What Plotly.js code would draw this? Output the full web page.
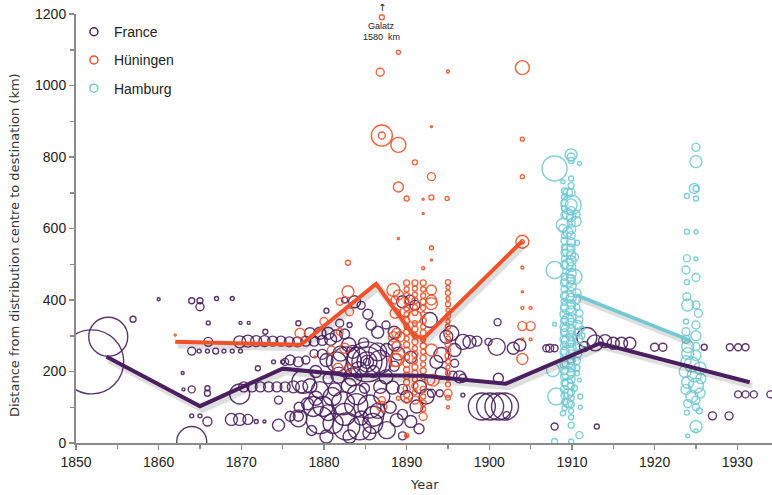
<!DOCTYPE html>
<html>
<head>
<meta charset="utf-8">
<script src="https://cdn.plot.ly/plotly-3.0.1.min.js"></script>
<style>html,body{margin:0;padding:0;background:#fff;}#chart{width:772px;height:495px;}</style>
</head>
<body>
<div id="chart"></div>
<script>
// ---- series names and colours ----
const seriesNames = ["France", "Hüningen", "Hamburg"];
const seriesColors = ["#4b1f5f", "#f0522a", "#72c9d4"];

// ---- average distance lines (year, km) ----
const franceLineYear = [1853.7, 1865, 1875, 1883, 1892, 1902, 1913.4, 1931.5];
const franceLineKm   = [241, 103, 208, 190, 188, 166, 279, 170];
const huningenLineYear = [1862, 1877.2, 1886.3, 1890.8, 1892, 1904];
const huningenLineKm   = [283, 275, 445, 302, 292, 565];
const hamburgLineYear = [1910.5, 1924.2];
const hamburgLineKm   = [414, 288];

// ---- bubbles: [year, km, diameter] ----
const franceBubbles = [
 [1851.9,227,64],[1853.9,297,39],[1856.9,346,6],[1860,402,3],
 [1864,398,6],[1865,398,6],[1865,381,8],[1867,404,4],[1868.9,404,4],
 [1866,336,4],[1869.9,336,3],[1870.9,336,3],[1872.9,311,5],
 [1864,257,8],[1864.9,257,4],[1865.9,257,4],[1866.9,257,6],[1867.9,257,4],[1868.9,257,4],[1869.9,257,4],
 [1866,283,9],
 [1869.8,283,12],[1870.8,285,12],[1871.8,285,11],[1872.8,285,11],[1873.8,285,10],[1874.8,285,10],
 [1875.8,283,10],[1876.8,283,10],[1877.8,285,10],[1878.8,285,10],[1879.8,287,10],[1880.8,290,12],
 [1862.9,196,3],[1863,150,3],[1864,150,7],[1865.9,153,5],[1865.9,139,6],
 [1869.8,137,20],
 [1870.3,157,10],[1871.3,157,10],[1872.3,157,10],[1873.3,157,10],[1874.3,157,10],[1875.3,157,10],[1876.3,157,12],[1877.3,157,12],[1878.3,160,14],
 [1872,209,5],[1875,227,4],[1875.9,232,10],[1876.9,227,10],[1877.8,232,8],
 [1864,76,4],[1865,76,4],[1865.9,60,9],[1868.8,66,12],[1869.8,66,12],[1870.8,66,10],[1871.8,60,4],[1872.8,60,3],[1875.9,75,10],[1876.9,75,10],
 [1864,4,30],[1876.9,335,5],
 [1878.3,307,11],[1879.5,307,12],[1880.5,307,12],[1881.5,300,12],[1882.5,305,10],
 [1881.9,335,8],[1883.1,330,5],[1880.3,370,5],[1883.7,395,12],[1882.5,400,6],[1885.3,360,10],[1884.5,385,8],
 [1885.7,330,10],[1886.5,310,12],[1887.5,330,8],[1888.5,310,12],
 [1880.3,232,13],[1881.5,227,20],[1882.7,227,30],[1883.5,255,13],[1884,240,20],
 [1885.2,227,40],[1885.2,227,30],[1885.2,227,20],[1885.2,227,13],[1885.2,227,7],
 [1886.8,227,23],[1887.6,260,13],[1884.2,205,16],[1886,200,12],[1882,250,15],[1879.8,248,10],[1878.8,250,8],[1873.9,227,4],[1875.3,227,7],
 [1889,250,13],[1890.5,240,12],[1888.5,215,10],
 [1877.5,171,23],[1879.5,148,17],[1881.3,150,13],[1884.9,153,10],[1886.8,157,13],[1888.3,155,13],[1883,160,15],[1880.5,180,10],
 [1882.3,111,23],[1883.9,106,23],[1885.5,102,23],[1879.9,102,20],[1878.7,102,20],[1876.9,69,17],[1879.5,64,27],[1881.1,55,20],
 [1882.7,46,27],[1884.3,41,23],[1885.9,55,20],[1887.6,36,17],[1888.8,64,13],[1880.3,18,13],[1883.1,18,13],[1885.5,27,13],
 [1878,110,12],[1877,100,10],[1874.5,120,8],[1886.5,90,15],[1888,100,12],[1889.5,80,10],[1878.5,35,10],[1874.5,50,12],
 [1881,130,18],[1884,135,20],[1887,130,16],[1879,125,14],[1882.5,80,22],[1886,75,20],[1880.5,85,16],[1884.5,70,14],
 [1881.8,190,16],[1883.5,185,18],[1887.5,185,14],[1879,200,12],[1886.5,255,18],[1888.5,275,12],[1883,275,14],[1884.8,280,10],
 [1889.5,395,12],[1890.4,400,10],[1891,385,10],[1892.8,344,15],[1894.8,297,13],[1895.4,307,15],[1896.8,283,15],[1897.6,283,13],
 [1898.5,285,10],[1895.8,260,13],[1893.6,227,13],[1894.2,195,12],[1894.2,246,15],[1895.8,223,8],[1896.4,185,12],[1895.6,190,8],
 [1896.8,181,8],[1894,139,7],[1893,139,8],[1896.8,134,4],[1892.4,130,15],[1891.6,157,13],[1891.2,102,13],[1890,130,12],
 [1889.5,150,10],[1890.5,60,12],[1891.5,40,10],[1889.5,20,8],
 [1901,338,7],[1899.9,283,7],[1900.9,269,17],[1902.9,265,12],[1903.7,274,12],[1907.3,265,8],[1901.1,181,10],
 [1899.1,102,27],[1900.1,102,27],[1901.1,102,27],[1901.9,102,27],[1902.1,78,7],
 [1906.9,265,7],[1907.9,265,7],[1911.8,295,20],[1914,285,13],[1915,279,12],[1916,279,12],[1917,279,12],
 [1920,268,8],[1921,268,8],[1926,268,6],[1929.1,268,7],[1930.1,268,7],[1931,268,7],
 [1930.1,136,7],[1931,136,7],[1932,136,7],[1934,136,7],[1927,76,8],[1929,76,8],[1907.9,46,7],[1913,46,5],
 [1911.5,270,10],[1912.8,280,16]
];

const huningenBubbles = [
 [1862,302,2],[1877.1,307,10],[1878.9,241,2],
 [1887,1191,5],[1889,1093,4],[1886.8,1037,8],[1895,1039,3],[1904,1050,14],
 [1887,860,21],[1887,860,7],[1889,834,15],[1893,885,2],[1904,850,4],[1891,785,5],[1893,745,8],[1904,745,4],
 [1889,716,10],[1890,684,5],[1892,682,2],[1893,687,5],[1894.9,684,4],[1892,642,2],[1889,572,2],[1893,546,4],
 [1893,512,2],[1892,489,3],[1904,563,13],[1904,563,4],[1904,491,3],[1904,423,2],[1882.9,504,5],[1882.9,423,12],
 [1904,378,3],[1905,378,3],[1904,327,9],[1905,327,9],[1904,290,3],[1904,235,11],[1905,290,3],
 [1881.9,395,7],[1883.1,367,8],[1881.9,311,7],[1880.9,260,8],[1881.7,209,10],[1883,209,7],[1882.5,265,10],
 [1888.8,232,13],[1887,102,10],[1887,120,7],[1889,125,4],[1890,18,3],[1889.8,367,10],[1888.8,307,10],
 [1888.4,428,13],[1888.6,400,8],[1888.6,363,10],[1888.4,297,10],[1888.8,269,10],[1888.6,232,13],
 [1893,428,10],[1893,400,10],[1893,260,12],[1892.8,176,10],[1892,74,8],[1891,120,8],[1895,139,8],[1895,127,5],
 [1890,22,4],[1889,414,10],[1889.2,297,10],[1893.2,176,12],[1891,353,13],[1893,390,12],[1880,340,8],
 // column 1890
 [1890,448,6],[1890,430,5],[1890,412,6],[1890,395,5],[1890,378,6],[1890,360,5],[1890,343,6],[1890,325,5],
 [1890,310,6],[1890,292,5],[1890,275,6],[1890,258,7],[1890,240,6],[1890,222,7],[1890,205,6],[1890,188,7],
 [1890,170,6],[1890,152,7],[1890,135,6],[1890,118,5],
 // column 1891
 [1891,448,6],[1891,432,5],[1891,415,5],[1891,398,6],[1891,380,5],[1891,365,6],[1891,335,5],[1891,318,6],
 [1891,300,5],[1891,283,6],[1891,265,5],[1891,248,6],[1891,230,5],[1891,212,6],[1891,195,6],[1891,178,5],
 [1891,160,6],[1891,142,5],
 // column 1892
 [1892,448,6],[1892,430,5],[1892,412,5],[1892,395,6],[1892,378,5],[1892,360,5],[1892,342,6],[1892,325,5],
 [1892,308,6],[1892,290,5],[1892,272,6],[1892,255,5],[1892,238,6],[1892,220,5],[1892,202,6],[1892,185,5],
 [1892,150,6],[1892,130,5],[1892,112,6],[1892,95,5],
 // column 1895
 [1895,450,5],[1895,435,4],[1895,420,5],[1895,404,4],[1895,388,5],[1895,372,4],[1895,356,5],[1895,340,4],
 [1895,325,5],[1895,308,4],[1895,292,5],[1895,276,6],[1895,260,5],[1895,244,6],[1895,228,5],[1895,212,4],
 [1895,196,5],[1895,180,4],[1895,164,5],[1895,100,3]
];

const hamburgBubbles = [
 [1907.9,768,25],[1909.9,806,12],[1909.9,800,8],[1909.9,790,6],[1910.9,782,4],[1908.9,731,4],
 [1909.9,666,20],[1909.9,666,12],[1909.9,700,8],[1909.9,720,6],[1909.9,740,5],[1908.9,610,13],[1908.9,600,8],
 [1907.9,484,17],[1910.3,465,15],[1910.9,363,7],[1910.9,345,7],[1907.9,332,4],[1907.7,204,13],[1908.1,130,17],
 [1910.3,153,6],[1910.9,176,4],[1908.9,83,5],[1909.9,50,6],[1910.9,22,7],[1909.9,4,5],[1907.9,4,6],
 [1910.5,640,8],[1910.5,620,10],[1910.6,560,5],[1910.3,520,8],[1910.6,420,8],
 // column 1909.1
 [1909.1,705,6],[1909.1,688,6],[1909.1,672,7],[1909.1,655,6],[1909.1,638,7],[1909.1,580,6],[1909.1,565,7],
 [1909.1,548,6],[1909.1,532,7],[1909.1,515,6],[1909.1,498,8],[1909.1,465,7],[1909.1,448,8],[1909.1,430,7],
 [1909.1,412,8],[1909.1,395,7],[1909.1,378,8],[1909.1,360,9],[1909.1,342,8],[1909.1,325,9],[1909.1,308,8],
 [1909.1,290,9],[1909.1,272,8],[1909.1,255,9],[1909.1,238,8],[1909.1,220,9],[1909.1,202,8],[1909.1,185,8],
 [1909.1,168,7],[1909.1,150,8],[1909.1,133,7],[1909.1,115,6],[1909.1,98,5],
 // column 1909.5 (overlapping)
 [1909.5,700,9],[1909.5,640,11],[1909.5,590,10],[1909.5,540,12],[1909.5,500,11],[1909.5,455,13],[1909.5,410,12],
 [1909.5,380,14],[1909.5,345,12],[1909.5,315,14],[1909.5,285,13],[1909.5,255,14],[1909.5,225,12],[1909.5,195,13],
 [1909.5,165,11],[1909.5,138,10],[1909.5,112,9],
 // column 1909.9
 [1909.9,650,8],[1909.9,632,9],[1909.9,615,8],[1909.9,598,9],[1909.9,580,8],[1909.9,562,9],[1909.9,545,8],
 [1909.9,528,9],[1909.9,510,10],[1909.9,492,9],[1909.9,475,10],[1909.9,458,9],[1909.9,440,10],[1909.9,422,9],
 [1909.9,405,10],[1909.9,388,9],[1909.9,370,10],[1909.9,352,9],[1909.9,335,10],[1909.9,318,9],[1909.9,300,10],
 [1909.9,282,9],[1909.9,265,10],[1909.9,248,9],[1909.9,230,8],[1909.9,212,9],[1909.9,195,8],[1909.9,178,8],
 [1909.9,160,7],[1909.9,142,7],[1909.9,125,6],[1909.9,108,6],[1909.9,90,5],[1909.9,72,5],
 // column 1910.6
 [1910.6,400,7],[1910.6,380,6],[1910.7,330,9],[1910.7,310,8],[1910.7,290,10],[1910.7,270,9],[1910.7,250,8],
 [1910.6,230,7],[1910.6,210,6],[1910.6,195,5],[1911.2,300,6],[1911.2,320,5],[1911,130,5],[1911,100,4],
 // column 1925
 [1925,827,8],[1925,787,12],[1924.8,712,10],[1925,712,6],[1923.9,691,5],[1925,684,5],[1923.9,591,5],[1925,591,4],
 [1923.9,517,7],[1925,515,4],[1923.8,484,8],[1925,463,8],[1923.9,450,5],[1923.9,409,8],[1924,386,12],[1925,386,8],
 [1925.3,363,8],[1923.8,340,5],[1925,330,8],[1923.8,311,8],[1925,300,10],[1923.8,290,8],[1924,270,12],[1925,270,8],
 [1924,250,12],[1925,245,10],[1923.8,230,10],[1924.5,220,15],[1925.5,210,12],[1923.7,200,12],[1924.8,190,14],
 [1925.6,180,10],[1924,170,12],[1925,160,15],[1923.8,150,10],[1925.5,140,10],[1924.5,130,12],[1925,120,8],
 [1924,110,8],[1925,100,7],[1923.9,85,5],[1925,46,12],[1925,34,4],[1924,20,4],[1925.4,90,6]
];

// ---- text ----
const xTitle = "Year";
const yTitle = "Distance from distribution centre to destination (km)";
const galatzLabel = ["Galatz", "1580  km"];
const galatzPoint = [1887, 1191];

// ---- build traces ----
const allBubbles = [franceBubbles, huningenBubbles, hamburgBubbles];
const lineYears = [franceLineYear, huningenLineYear, hamburgLineYear];
const lineKms = [franceLineKm, huningenLineKm, hamburgLineKm];
const lineWidths = [4, 4, 3.5];

const traces = [];
allBubbles.forEach((b, i) => {
  traces.push({
    type: 'scatter', mode: 'markers', showlegend: false, hoverinfo: 'skip',
    x: b.map(r => r[0]), y: b.map(r => r[1]),
    marker: {symbol: 'circle-open', color: seriesColors[i], size: b.map(r => r[2]),
             line: {width: 1.4, color: seriesColors[i]}, opacity: 0.9}
  });
});
// shadows then lines
[0, 1, 2].forEach(i => {
  traces.push({
    type: 'scatter', mode: 'lines', showlegend: false, hoverinfo: 'skip',
    x: lineYears[i].map(v => v + 0.3), y: lineKms[i].map(v => v - 9),
    line: {color: 'rgba(0,0,0,0.13)', width: lineWidths[i] + 3}
  });
});
[1, 0, 2].forEach(i => {
  traces.push({
    type: 'scatter', mode: 'lines', showlegend: false, hoverinfo: 'skip',
    x: lineYears[i], y: lineKms[i],
    line: {color: seriesColors[i], width: lineWidths[i]}
  });
});
// legend entries
seriesNames.forEach((n, i) => {
  traces.push({
    type: 'scatter', mode: 'markers', name: n, legendgroup: 'g' + i,
    x: [null], y: [null],
    marker: {symbol: 'circle-open', color: seriesColors[i], size: 8, line: {width: 1.5}}
  });
});

const axisCommon = {
  showgrid: false, zeroline: false, showline: true, linecolor: '#8a8a8a', linewidth: 2,
  ticks: 'outside', ticklen: 5, tickwidth: 1.5, tickcolor: '#8a8a8a',
  tickfont: {family: 'Liberation Sans, Arial, sans-serif', size: 14, color: '#222'}
};

const layout = {
  width: 772, height: 495,
  margin: {l: 76, r: 0, t: 14, b: 52},
  paper_bgcolor: '#fff', plot_bgcolor: '#fff',
  xaxis: Object.assign({}, axisCommon, {range: [1850, 1934.2], tick0: 1850, dtick: 10,
    minor: {dtick: 5, ticks: 'outside', ticklen: 4, tickcolor: '#8a8a8a'}}),
  yaxis: Object.assign({}, axisCommon, {range: [0, 1200], tick0: 0, dtick: 200,
    minor: {dtick: 100, ticks: 'outside', ticklen: 4, tickcolor: '#8a8a8a'}}),
  showlegend: true,
  legend: {x: -0.003, y: 0.995, xanchor: 'left', yanchor: 'top', bgcolor: 'rgba(0,0,0,0)',
    font: {family: 'Liberation Sans, Arial, sans-serif', size: 14, color: '#222'},
    tracegroupgap: 7, itemwidth: 30},
  annotations: [
    {xref: 'paper', yref: 'paper', x: 0.5, y: -0.097, text: xTitle, showarrow: false,
     font: {family: 'DejaVu Sans, sans-serif', size: 13, color: '#333'}, yanchor: 'middle'},
    {xref: 'paper', yref: 'paper', x: -0.089, y: 0.4615, text: yTitle, showarrow: false, textangle: -90,
     font: {family: 'DejaVu Sans, sans-serif', size: 13, color: '#333'}, xanchor: 'center', yanchor: 'middle'},
    {x: galatzPoint[0], y: galatzPoint[1], text: '↑', showarrow: false, yshift: 10,
     font: {family: 'DejaVu Sans, sans-serif', size: 10, color: '#222'}},
    {x: galatzPoint[0], y: galatzPoint[1], text: galatzLabel[0], showarrow: false, yshift: -9,
     font: {family: 'Liberation Sans, Arial, sans-serif', size: 9, color: '#222'}},
    {x: galatzPoint[0], y: galatzPoint[1], text: galatzLabel[1], showarrow: false, yshift: -20,
     font: {family: 'Liberation Sans, Arial, sans-serif', size: 9, color: '#222'}}
  ]
};

Plotly.newPlot('chart', traces, layout, {displayModeBar: false, staticPlot: true});
</script>
</body>
</html>
